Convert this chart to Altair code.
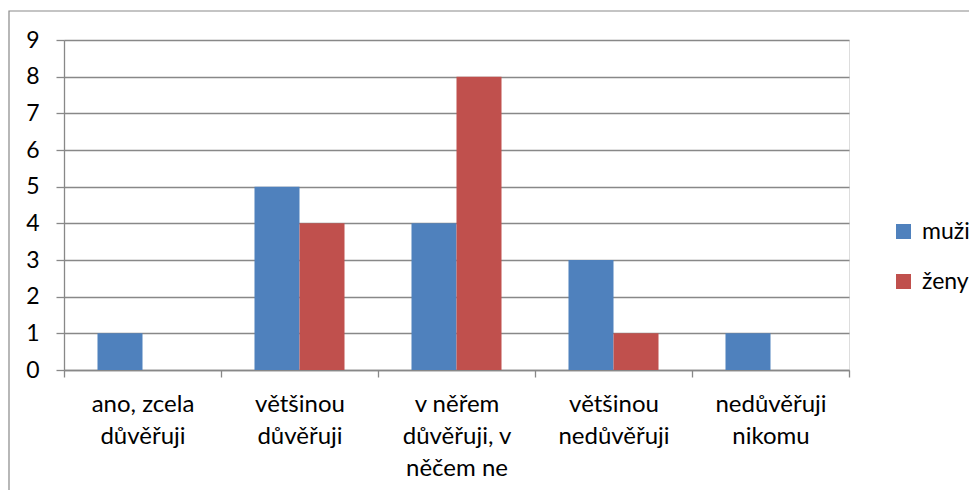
import altair as alt
import pandas as pd

categories = ["ano, zcela\ndůvěřuji", "většinou\ndůvěřuji", "v něřem\ndůvěřuji, v\nněčem ne",
              "většinou\nnedůvěřuji", "nedůvěřuji\nnikomu"]
series = ["muži", "ženy"]
muzi = [1, 5, 4, 3, 1]
zeny = [0, 4, 8, 1, 0]
colors = ["#4F81BD", "#C0504D"]

rows = []
for c, m, z in zip(categories, muzi, zeny):
    rows.append({"kategorie": c, "pohlaví": "muži", "počet": m})
    rows.append({"kategorie": c, "pohlaví": "ženy", "počet": z})
df = pd.DataFrame(rows)

FONT = "Lato"
GRID = "#888888"
W, H = 785, 330

bars = alt.Chart(df).mark_bar().encode(
    x=alt.X("kategorie:N", sort=categories,
            scale=alt.Scale(paddingInner=0, paddingOuter=0),
            axis=alt.Axis(title=None, labelAngle=0, tickBand="extent",
                          labelExpr="split(datum.label, '\\n')",
                          labelLineHeight=32, labelFontSize=24, labelFont=FONT,
                          labelColor="black", labelPadding=15, labelBaseline="top",
                          tickSize=7, tickColor=GRID, domainColor=GRID,
                          tickWidth=1.3, domainWidth=1.3, grid=False)),
    xOffset=alt.XOffset("pohlaví:N", sort=series,
                        scale=alt.Scale(paddingInner=0, paddingOuter=0.744)),
    y=alt.Y("počet:Q", scale=alt.Scale(domain=[0, 9], nice=False),
            axis=alt.Axis(title=None, values=list(range(10)), tickSize=8,
                          tickColor=GRID, domainColor=GRID, gridColor=GRID,
                          tickWidth=1.3, domainWidth=1.3, gridWidth=1.3,
                          labelFontSize=23, labelFont=FONT, labelColor="black",
                          labelPadding=17)),
    color=alt.Color("pohlaví:N", sort=series,
                    scale=alt.Scale(domain=series, range=colors),
                    legend=alt.Legend(title=None, orient="none", legendX=828, legendY=180,
                                      symbolType="square", symbolSize=225,
                                      symbolStrokeWidth=0, labelFontSize=23,
                                      labelFont=FONT, labelColor="black",
                                      labelOffset=7, rowPadding=26, padding=0)),
)

border = alt.Chart(pd.DataFrame({"a": [0]})).mark_rect(
    fill=None, stroke="#898989", strokeWidth=1.2
).encode(x=alt.value(-55), x2=alt.value(1200), y=alt.value(-29), y2=alt.value(700))

chart = alt.layer(border, bars).properties(
    width=W, height=H,
    autosize=alt.AutoSizeParams(type="none"),
    padding={"left": 56, "top": 32, "right": 120, "bottom": 120},
).configure_view(stroke=None).configure(background="white")

chart.save("out.html", embed_options={"renderer": "svg", "actions": False})
